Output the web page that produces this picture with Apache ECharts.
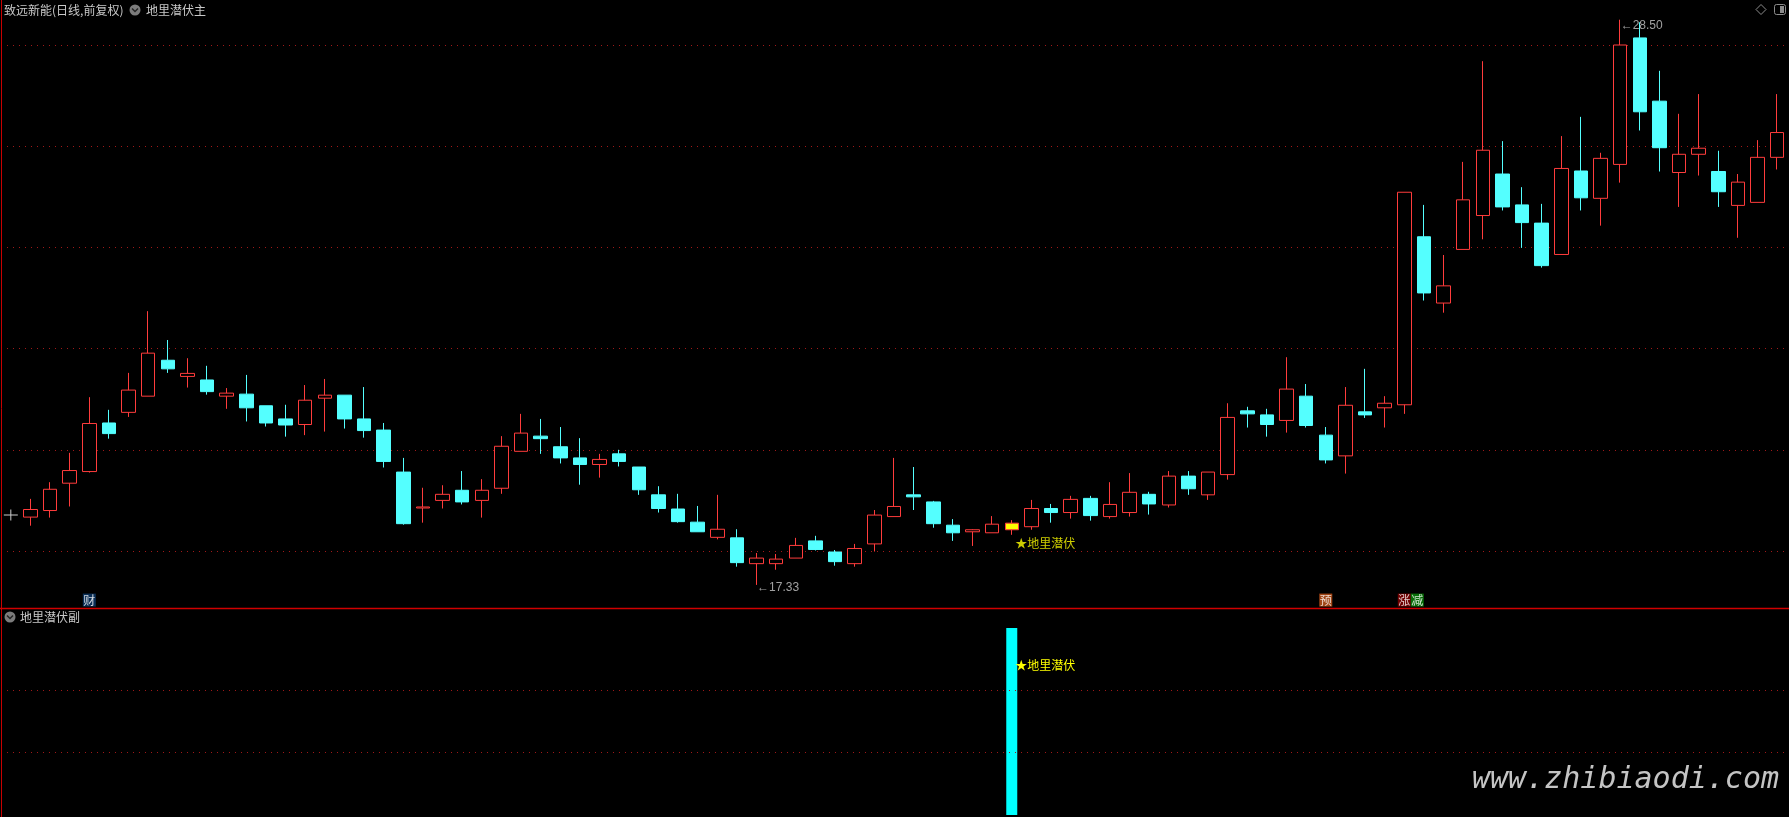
<!DOCTYPE html>
<html><head><meta charset="utf-8">
<script src="https://cdn.jsdelivr.net/npm/echarts@6/dist/echarts.min.js"></script>
<style>html,body{margin:0;padding:0;background:#000;}#c{width:1789px;height:817px;}</style>
</head><body><div id="c"></div>
<script>
// ---- data ----
const opens  = [18.67,18.80,19.34,19.57,20.53,20.74,21.06,21.77,21.45,21.38,21.06,21.10,20.87,20.61,20.50,21.02,21.08,20.61,20.39,19.56,
                18.85,19.00,19.20,19.00,19.24,19.97,20.27,20.06,19.84,19.71,19.92,19.66,19.11,18.83,18.57,18.27,18.26,17.75,17.75,17.86,
                18.20,17.98,17.75,18.14,18.68,19.11,18.97,18.51,18.38,18.36,18.42,18.48,18.84,18.76,19.04,18.68,18.76,19.12,18.91,19.48,
                19.11,19.51,20.77,20.69,20.58,21.06,20.29,19.88,20.75,20.83,20.89,24.21,22.90,23.96,24.63,25.45,24.84,24.48,23.86,25.51,
                24.97,25.64,28.14,26.89,25.48,25.84,25.50,24.83,24.89,25.78];
const closes = [18.82,19.22,19.59,20.52,20.32,21.18,21.91,21.60,21.51,21.15,21.12,20.83,20.53,20.49,20.98,21.08,20.61,20.38,19.77,18.54,
                18.87,19.12,18.97,19.20,20.07,20.33,20.22,19.84,19.71,19.81,19.77,19.21,18.84,18.58,18.38,18.43,17.77,17.86,17.84,18.11,
                18.03,17.79,18.05,18.71,18.88,19.07,18.54,18.36,18.42,18.53,18.55,18.84,18.76,19.02,18.70,18.92,19.16,18.93,19.48,19.23,
                19.56,20.64,20.71,20.50,21.20,20.48,19.80,20.88,20.69,20.92,25.09,23.10,23.24,24.94,25.92,24.80,24.49,23.64,25.56,24.98,
                25.76,28.00,26.68,25.97,25.84,25.96,25.10,25.29,25.78,26.27];
const lows   = [18.50,18.66,18.88,19.55,20.22,20.65,21.06,21.52,21.23,21.09,20.81,20.56,20.46,20.26,20.29,20.36,20.42,20.24,19.65,18.52,
                18.56,18.84,18.92,18.66,19.13,19.97,19.92,19.73,19.31,19.45,19.67,19.11,18.76,18.56,18.38,18.23,17.69,17.33,17.63,17.86,
                18.01,17.71,17.69,17.99,18.68,18.81,18.46,18.20,18.10,18.36,18.32,18.42,18.56,18.64,18.60,18.64,18.68,18.72,18.86,19.11,
                19.01,19.41,20.44,20.26,20.34,20.44,19.73,19.53,20.63,20.44,20.71,22.95,22.71,23.96,24.16,24.73,23.99,23.60,23.86,24.73,
                24.43,25.28,26.31,25.50,24.80,25.42,24.80,24.19,24.89,25.54];
const highs  = [19.03,19.36,19.94,21.04,20.79,21.52,22.74,22.17,21.81,21.66,21.22,21.48,20.87,20.89,21.28,21.40,21.08,21.24,20.53,19.84,
                19.25,19.30,19.58,19.42,20.27,20.71,20.61,20.45,20.23,19.92,20.00,19.66,19.28,19.13,18.89,19.11,18.43,17.96,17.94,18.26,
                18.30,18.02,18.14,18.81,19.84,19.66,18.99,18.63,18.43,18.69,18.61,19.01,18.93,19.09,19.09,19.36,19.54,19.17,19.58,19.58,
                19.56,20.92,20.85,20.81,21.83,21.30,20.45,21.24,21.60,21.06,25.09,24.84,23.85,25.69,27.68,26.10,25.19,24.86,26.20,26.58,
                25.87,28.50,28.45,27.49,26.64,27.03,25.91,25.45,26.12,27.03];
const dayLabels = opens.map((_, i) => 'D' + (i + 1));     // category names only
const categories = [''].concat(dayLabels);                 // first slot holds the cursor cross
const priceTicks = [18, 20, 22, 24, 26, 28];
const cursorPrice = 18.71;
const signalDay = 50;          // index of the 地里潜伏 candle
const signalHeight = 3;        // sub-panel bar value
const signalText = '★地里潜伏';
const eventDays  = [3, 66, 70, 70];
const eventTexts = ['财', '预', '涨', '减'];
const title1 = '致远新能(日线,前复权)';
const title2 = '地里潜伏主';
const title3 = '地里潜伏副';

// ---- styles ----
const RED = '#ff3c3c', CYAN = '#54ffff', GRID = '#a01818', TXT = '#c8c8c8';
const CJK = '"Noto Sans CJK SC", sans-serif';
const NUM = '"Liberation Sans", sans-serif';
const eventBg = {'财': '#0c3a6c', '预': '#c8561a', '涨': '#8a0000', '减': '#0a8a0a'};
const markerLevel = 17.03;

const candleData = ['-'].concat(opens.map((o, i) => {
  const v = [o, closes[i], lows[i], highs[i]];
  if (i === signalDay) return {value: v, itemStyle: {color: '#ffff00', borderColor: RED}};
  return v;
}));

const hiVal = Math.max(...highs), hiIdx = highs.indexOf(hiVal);
const loVal = Math.min(...lows), loIdx = lows.indexOf(loVal);

const seen = {};
const eventData = eventDays.map((d, k) => {
  const n = seen[d] || 0; seen[d] = n + 1;
  const t = eventTexts[k];
  return {value: [d + 1, markerLevel], label: {formatter: t, backgroundColor: eventBg[t], offset: [13 * n, 0]}};
});

const extremeData = [
  {value: [hiIdx + 1, hiVal], label: {formatter: '←' + hiVal.toFixed(2), offset: [0, 6]}},
  {value: [loIdx + 1, loVal], label: {formatter: '←' + loVal.toFixed(2), offset: [0, 3]}},
  {value: [signalDay + 1, lows[signalDay]], label: {formatter: signalText, color: '#ffff00', fontFamily: CJK, distance: 3, offset: [0, 9]}}
];

const subData = categories.map((_, i) => (i === signalDay + 1 ? signalHeight : '-'));

const chart = echarts.init(document.getElementById('c'), null, {renderer: 'canvas'});
chart.setOption({
  backgroundColor: '#000',
  animation: false,
  grid: [
    {left: 1, right: 2, top: 45, height: 506},
    {left: 1, right: 2, top: 628, height: 187}
  ],
  xAxis: [
    {type: 'category', data: categories, gridIndex: 0, show: false, boundaryGap: true},
    {type: 'category', data: categories, gridIndex: 1, show: false, boundaryGap: true}
  ],
  yAxis: [
    {type: 'value', gridIndex: 0, min: priceTicks[0], max: priceTicks[priceTicks.length - 1], interval: 2,
     axisLine: {show: false}, axisTick: {show: false}, axisLabel: {show: false},
     splitLine: {show: true, lineStyle: {color: GRID, type: [1, 5], width: 1}}},
    {type: 'value', gridIndex: 1, min: 0, max: signalHeight,
     axisLine: {show: false}, axisTick: {show: false}, axisLabel: {show: false}, splitLine: {show: false}}
  ],
  series: [
    {
      type: 'candlestick', xAxisIndex: 0, yAxisIndex: 0, data: candleData, clip: false,
      barWidth: 14,
      itemStyle: {color: '#000', color0: CYAN, borderColor: RED, borderColor0: CYAN, borderWidth: 1},
      emphasis: {disabled: true}
    },
    {
      type: 'scatter', xAxisIndex: 0, yAxisIndex: 0, silent: true, clip: false,
      data: extremeData, symbolSize: 1, itemStyle: {color: 'rgba(0,0,0,0)'},
      label: {show: true, position: 'right', distance: 0, color: TXT, fontSize: 12, fontFamily: NUM},
      z: 5
    },
    {
      type: 'scatter', xAxisIndex: 0, yAxisIndex: 0, silent: true,
      data: [[0, cursorPrice]],
      symbol: 'path://M0,5h14v1H0z M6.5,0h1v11h-1z', symbolSize: [14, 11], symbolKeepAspect: false,
      itemStyle: {color: '#ffffff'}
    },
    {
      type: 'scatter', xAxisIndex: 0, yAxisIndex: 0, silent: true, clip: false,
      data: eventData, symbolSize: 1, itemStyle: {color: 'rgba(0,0,0,0)'},
      label: {show: true, position: 'inside', color: '#ffffff', fontSize: 12, fontFamily: CJK,
              width: 13, height: 12, lineHeight: 12, align: 'center', verticalAlign: 'middle', padding: [1, 0, 0, 0]}
    },
    {
      type: 'bar', xAxisIndex: 1, yAxisIndex: 1, data: subData, barWidth: 11, silent: true,
      itemStyle: {color: '#00ffff'},
      label: {show: true, position: [9, 37], align: 'left', verticalAlign: 'middle',
              formatter: signalText, color: '#ffff00', fontSize: 12, fontFamily: CJK},
      markLine: {
        silent: true, symbol: 'none', label: {show: false},
        lineStyle: {color: GRID, type: [1, 5], width: 1},
        data: [{yAxis: 1}, {yAxis: 2}]
      }
    }
  ],
  graphic: [
    {type: 'line', shape: {x1: 1.5, y1: 0, x2: 1.5, y2: 817}, style: {stroke: '#c80000', lineWidth: 1}, z: 100},
    {type: 'line', shape: {x1: 0, y1: 608.5, x2: 1789, y2: 608.5}, style: {stroke: '#d00000', lineWidth: 1.5}, z: 100},
    {type: 'text', x: 4, y: 10, style: {text: title1, fill: TXT, font: '12px ' + CJK, textVerticalAlign: 'middle'}, z: 100},
    {type: 'circle', shape: {cx: 135, cy: 10, r: 5.5}, style: {fill: '#7c7c7c'}, z: 100},
    {type: 'polyline', shape: {points: [[132, 8.5], [135, 11.5], [138, 8.5]]}, style: {stroke: '#262626', lineWidth: 1.5, fill: null}, z: 101},
    {type: 'text', x: 146, y: 10, style: {text: title2, fill: TXT, font: '12px ' + CJK, textVerticalAlign: 'middle'}, z: 100},
    {type: 'circle', shape: {cx: 10, cy: 617, r: 5.5}, style: {fill: '#7c7c7c'}, z: 100},
    {type: 'polyline', shape: {points: [[7, 615.5], [10, 618.5], [13, 615.5]]}, style: {stroke: '#262626', lineWidth: 1.5, fill: null}, z: 101},
    {type: 'text', x: 20, y: 617, style: {text: title3, fill: TXT, font: '12px ' + CJK, textVerticalAlign: 'middle'}, z: 100},
    {type: 'polygon', shape: {points: [[1761, 4.5], [1766, 9.5], [1761, 14.5], [1756, 9.5]]}, style: {stroke: '#8c8c8c', fill: null, lineWidth: 1}, z: 100},
    {type: 'rect', shape: {x: 1774.5, y: 4.5, width: 11, height: 10, r: 2}, style: {stroke: '#8c8c8c', fill: null, lineWidth: 1}, z: 100},
    {type: 'rect', shape: {x: 1780, y: 6, width: 4, height: 7}, style: {fill: '#8c8c8c'}, z: 100},
    {type: 'text', x: 1472, y: 780, style: {text: 'www.zhibiaodi.com', fill: '#c4c4c4',
      font: 'italic 30px "DejaVu Sans Mono", monospace', textVerticalAlign: 'middle'}, z: 100}
  ]
});
</script>
</body></html>
